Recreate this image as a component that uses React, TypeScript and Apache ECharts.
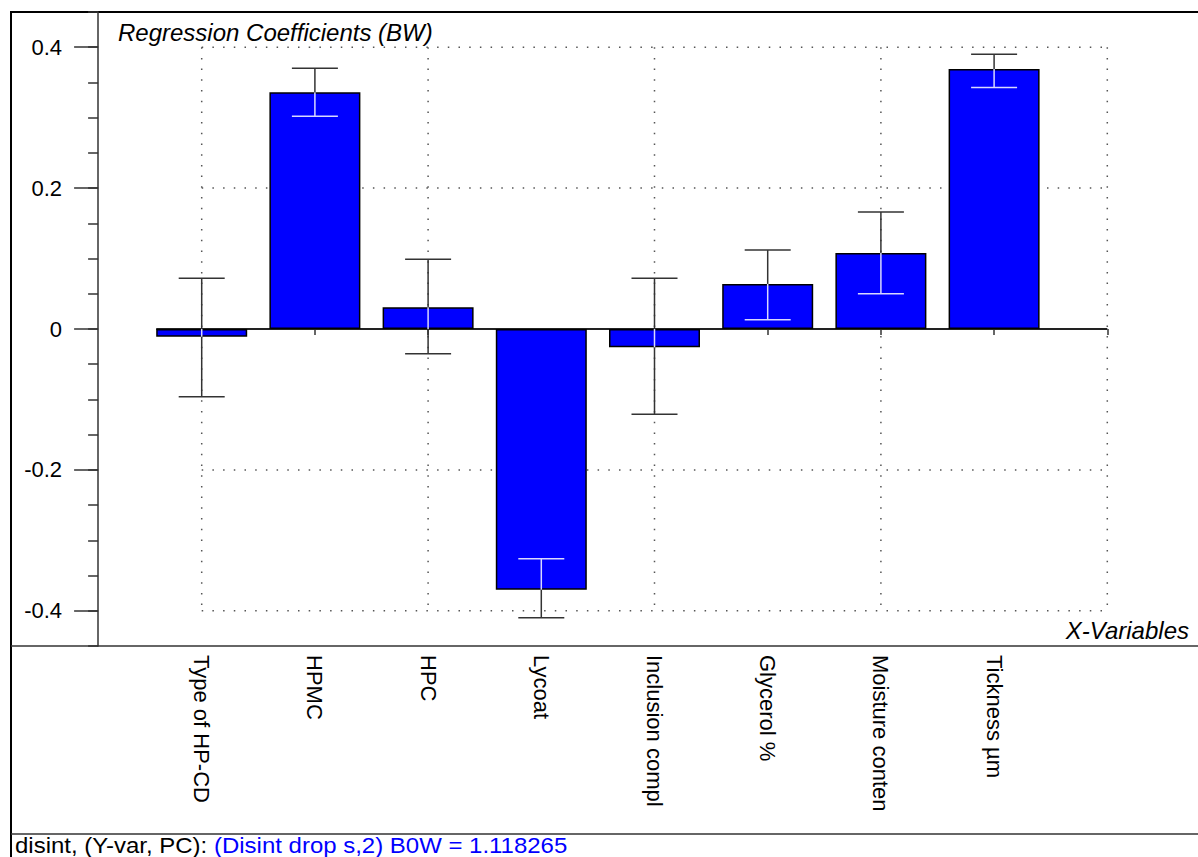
import React, { useEffect, useRef } from 'react';
import * as echarts from 'echarts';

const categories = ['Type of HP-CD', 'HPMC', 'HPC', 'Lycoat', 'Inclusion compl', 'Glycerol %', 'Moisture conten', 'Tickness µm'];
const coefficients = [-0.011, 0.336, 0.031, -0.370, -0.026, 0.064, 0.108, 0.369];
const errorLow = [-0.096, 0.302, -0.035, -0.410, -0.121, 0.013, 0.050, 0.343];
const errorHigh = [0.072, 0.370, 0.099, -0.326, 0.072, 0.112, 0.166, 0.390];
const yLabelTicks = [-0.4, -0.2, 0, 0.2, 0.4];
const gridValues = [-0.4, -0.2, 0.2, 0.4];
const gridCategoryIdx = [0, 2, 4, 6, 8];
const axisCategories = [...categories, ''];

const FONT = 'Arial, "Liberation Sans", sans-serif';
const BAR_W = 91;
const CAP_HALF = 23;
const DARK = '#333333';
const LIGHT = '#d8d8ff';

export default function App() {
  const ref = useRef<HTMLDivElement>(null);
  useEffect(() => {
    if (!ref.current) return;
    const chart = echarts.init(ref.current, undefined, { renderer: 'svg' });

    const errData = categories.map((c, i) => [c, coefficients[i], errorLow[i], errorHigh[i]]);

    const option: any = {
      animation: false,
      backgroundColor: '#ffffff',
      grid: { left: 145.1, right: 34.1, top: 12, bottom: 211, containLabel: false },
      xAxis: {
        type: 'category',
        data: axisCategories,
        position: 'bottom',
        axisLine: { show: false },
        axisTick: { show: true, alignWithLabel: true, interval: 0, length: 6, lineStyle: { color: DARK, width: 1.5 } },
        axisLabel: { interval: 0, rotate: -90, margin: 9, fontSize: 22, fontFamily: FONT, color: '#000' },
        splitLine: { show: false },
      },
      yAxis: [
        {
          type: 'value',
          min: -0.45,
          max: 0.45,
          position: 'left',
          offset: 47,
          axisLine: { show: true, onZero: false, lineStyle: { color: DARK, width: 1.5 } },
          axisTick: { show: true, customValues: yLabelTicks, length: 24, lineStyle: { color: DARK, width: 1.5 } },
          axisLabel: {
            show: true,
            customValues: yLabelTicks,
            margin: 36,
            fontSize: 22,
            fontFamily: FONT,
            color: '#000',
            formatter: (v: number) => (Math.abs(v) < 1e-9 ? '0' : String(Math.round(v * 10) / 10)),
          },
          splitLine: { show: false },
        },
        {
          type: 'value',
          min: -0.45,
          max: 0.45,
          interval: 0.05,
          position: 'left',
          offset: 47,
          axisLine: { show: false, onZero: false },
          axisTick: { show: true, length: 10, lineStyle: { color: DARK, width: 1.5 } },
          axisLabel: { show: false },
          splitLine: { show: false },
        },
      ],
      series: [
        {
          type: 'custom',
          name: 'guides',
          z: 1,
          silent: true,
          data: [[categories[0], 0]],
          encode: { x: 0, y: 1 },
          renderItem: (params: any, api: any) => {
            const children: any[] = [];
            const left = api.coord([0, 0])[0];
            const right = api.coord([8, 0])[0];
            const top = api.coord([0, 0.4])[1];
            const bottom = api.coord([0, -0.4])[1];
            gridValues.forEach((g) => {
              const y = api.coord([0, g])[1];
              children.push({ type: 'line', shape: { x1: left, y1: y, x2: right, y2: y }, style: { stroke: '#555', lineWidth: 1.5, lineDash: [1.5, 9.2] } });
            });
            gridCategoryIdx.forEach((k) => {
              const x = api.coord([k, 0])[0];
              children.push({ type: 'line', shape: { x1: x, y1: top, x2: x, y2: bottom }, style: { stroke: '#555', lineWidth: 1.5, lineDash: [1.5, 9.2] } });
            });
            const y0 = api.coord([0, 0])[1];
            children.push({ type: 'line', shape: { x1: left - BAR_W / 2, y1: y0, x2: right, y2: y0 }, style: { stroke: '#222', lineWidth: 2 } });
            return { type: 'group', children };
          },
        },
        {
          type: 'bar',
          name: 'coefficients',
          z: 2,
          barWidth: BAR_W,
          data: coefficients,
          itemStyle: { color: '#0000ff', borderColor: '#000', borderWidth: 1.5 },
        },
        {
          type: 'custom',
          name: 'errors',
          z: 3,
          data: errData,
          encode: { x: 0, y: 1 },
          renderItem: (params: any, api: any) => {
            const idx = api.value(0);
            const v = api.value(1);
            const lo = api.value(2);
            const hi = api.value(3);
            const barLo = Math.min(0, v);
            const barHi = Math.max(0, v);
            const x = api.coord([idx, 0])[0];
            const pts = [lo, hi, barLo, barHi].filter((p) => p >= lo && p <= hi).sort((a, b) => a - b);
            const children: any[] = [];
            for (let k = 0; k < pts.length - 1; k++) {
              const a = pts[k];
              const b = pts[k + 1];
              if (b - a < 1e-9) continue;
              const mid = (a + b) / 2;
              const inside = mid > barLo && mid < barHi;
              const y1 = api.coord([idx, a])[1];
              const y2 = api.coord([idx, b])[1];
              children.push({ type: 'line', shape: { x1: x, y1, x2: x, y2 }, style: { stroke: inside ? LIGHT : DARK, lineWidth: 1.5 } });
            }
            [lo, hi].forEach((e) => {
              const inside = e > barLo && e < barHi;
              const y = api.coord([idx, e])[1];
              children.push({ type: 'line', shape: { x1: x - CAP_HALF, y1: y, x2: x + CAP_HALF, y2: y }, style: { stroke: inside ? LIGHT : DARK, lineWidth: 1.5 } });
            });
            return { type: 'group', children };
          },
        },
      ],
      graphic: [
        { type: 'line', shape: { x1: 11, y1: 12, x2: 11, y2: 857 }, style: { stroke: '#000', lineWidth: 2 } },
        { type: 'line', shape: { x1: 10, y1: 12, x2: 1198, y2: 12 }, style: { stroke: '#000', lineWidth: 2 } },
        { type: 'line', shape: { x1: 11, y1: 646, x2: 1198, y2: 646 }, style: { stroke: DARK, lineWidth: 1.5 } },
        { type: 'line', shape: { x1: 11, y1: 834, x2: 1198, y2: 834 }, style: { stroke: DARK, lineWidth: 1.5 } },
        {
          type: 'text',
          x: 118,
          y: 32,
          style: { text: 'Regression Coefficients (BW)', fontSize: 24, fontStyle: 'italic', fontFamily: FONT, fill: '#000', textAlign: 'left', textVerticalAlign: 'middle' },
        },
        {
          type: 'text',
          x: 1189,
          y: 630,
          style: { text: 'X-Variables', fontSize: 24, fontStyle: 'italic', fontFamily: FONT, fill: '#000', textAlign: 'right', textVerticalAlign: 'middle' },
        },
        {
          type: 'text',
          x: 15,
          y: 845,
          scaleX: 1.09,
          style: {
            text: '{a|disint, (Y-var, PC): }{b|(Disint drop s,2) B0W = 1.118265}',
            textAlign: 'left',
            textVerticalAlign: 'middle',
            rich: {
              a: { fontSize: 22, fontFamily: FONT, fill: '#000', color: '#000' },
              b: { fontSize: 22, fontFamily: FONT, fill: '#0000ff', color: '#0000ff' },
            },
          },
        },
      ],
    };

    chart.setOption(option);
    return () => {
      chart.dispose();
    };
  }, []);

  return (
    <div
      ref={ref}
      style={{ position: 'absolute', left: 0, top: 0, width: 1198, height: 857, background: '#fff' }}
    />
  );
}
